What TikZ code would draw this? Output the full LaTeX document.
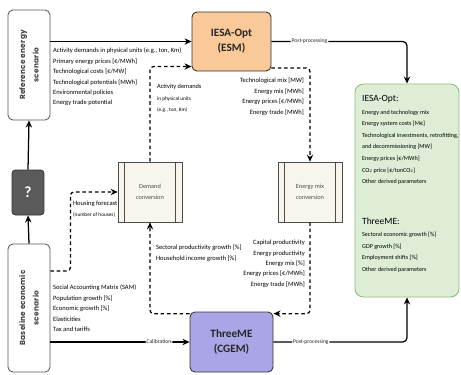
\documentclass[tikz,border=0pt]{standalone}
\usepackage{fontspec}
\setmainfont{Carlito}
\newfontfamily\scenfont[LetterSpace=3]{Poppins}
\usetikzlibrary{arrows.meta,calc}
\tikzset{>={Stealth[length=10pt,width=9pt]}}
\definecolor{esmfill}{HTML}{F9C999}
\definecolor{cgefill}{HTML}{A9A5E6}
\definecolor{outfill}{HTML}{DDEDD6}
\definecolor{outdraw}{HTML}{93C07A}
\definecolor{convfill}{HTML}{F8F6EC}
\definecolor{qfill}{HTML}{5B5B5B}
\tikzset{
  scenbox/.style={draw=black!65,line width=1.2pt,rounded corners=7pt,fill=white,minimum width=2.1cm},
  scentext/.style={rotate=90,align=center,text=black!75,font=\scenfont\bfseries\fontsize{10.5}{19}\selectfont},
  modelbox/.style={draw=black!80,line width=1.3pt,rounded corners=7pt,align=center,font=\bfseries\fontsize{16}{21}\selectfont,text=black!85},
  convbox/.style={draw=black!70,line width=0.9pt,fill=convfill,minimum width=3.2cm,minimum height=3cm,align=center,font=\fontsize{9}{15}\selectfont,text=black!70},
  infotext/.style={inner sep=0pt,align=left,text=black,font=\fontsize{9.3}{14.8}\selectfont},
  listtext/.style={inner sep=0pt,align=left,text=black,font=\fontsize{8.7}{16.4}\selectfont},
  flow/.style={line width=1.8pt,rounded corners=6pt},
  dflow/.style={line width=1.8pt,dash pattern=on 5pt off 4pt,rounded corners=5pt},
  onlabel/.style={fill=white,inner sep=1.5pt,font=\fontsize{8}{9}\selectfont,text=black!85},
  outhead/.style={inner sep=0pt,anchor=west,font=\fontsize{13.5}{15}\selectfont,text=black}
}
\newcommand{\smalltxt}{\fontsize{7.5}{8}\selectfont}
\begin{document}
\begin{tikzpicture}[x=0.05cm,y=-0.05cm]
\useasboundingbox (0,0) rectangle (461,374);
\node (ref) [scenbox,minimum height=5.5cm] at (29,65) {};
\node (reftext) [scentext] at (ref) {Reference energy\\scenario};
\node (base) [scenbox,minimum height=6.4cm] at (29,308) {};
\node (basetext) [scentext] at (base) {Baseline economic\\scenario};
\node (q) [draw=black!80,line width=1.2pt,rounded corners=5pt,fill=qfill,minimum width=1.6cm,minimum height=2.25cm,text=white,font=\bfseries\fontsize{22}{24}\selectfont] at (28,192.5) {?};
\node (esm) [modelbox,fill=esmfill,minimum width=3.95cm,minimum height=2.95cm] at (231.5,41.5) {IESA-Opt\\(ESM)};
\node (cge) [modelbox,fill=cgefill,minimum width=4.15cm,minimum height=3cm] at (231.5,342) {ThreeME\\(CGEM)};
\node (demand) [convbox] at (150,192) {Demand\\conversion};
\node (mix) [convbox] at (310,192) {Energy mix\\conversion};
\draw[black!70,line width=0.9pt] ([xshift=10pt]demand.north west) -- ([xshift=10pt]demand.south west);
\draw[black!70,line width=0.9pt] ([xshift=-10pt]demand.north east) -- ([xshift=-10pt]demand.south east);
\draw[black!70,line width=0.9pt] ([xshift=10pt]mix.north west) -- ([xshift=10pt]mix.south west);
\draw[black!70,line width=0.9pt] ([xshift=-10pt]mix.north east) -- ([xshift=-10pt]mix.south east);
\node (out) [draw=outdraw,line width=1.3pt,rounded corners=12pt,fill=outfill,minimum width=5.2cm,minimum height=10.65cm] at (407,190.5) {};

\node (refin) [infotext,anchor=north west] at (53,48) {Activity demands in physical units (e.g., ton, Km)\\Primary energy prices [€/MWh]\\Technological costs [€/MW]\\Technological potentials [MWh]\\Environmental policies\\Energy trade potential};
\node (actin) [infotext,anchor=north west,font=\fontsize{9}{16.5}\selectfont] at (157,84) {Activity demands\\{\smalltxt in physical units}\\{\smalltxt (e.g., ton, Km)}};
\node (mixin) [infotext,align=right,anchor=north east] at (304,78) {Technological mix [MW]\\Energy mix [MWh]\\Energy prices [€/MWh]\\Energy trade [MWh]};
\node (housin) [infotext,anchor=north west] at (73,201) {Housing forecast\\{\smalltxt (number of houses)}};
\node (sectin) [infotext,anchor=north west] at (156,245) {Sectoral productivity growth [\%]\\Household income growth [\%]};
\node (capin) [infotext,align=right,anchor=north east] at (305,240) {Capital productivity\\Energy productivity\\Energy mix [\%]\\Energy prices [€/MWh]\\Energy trade [MWh]};
\node (basein) [infotext,anchor=north west] at (53,285) {Social Accounting Matrix (SAM)\\Population growth [\%]\\Economic growth [\%]\\Elasticities\\Tax and tariffs};

\node (outhead1) [outhead] at (362,99) {IESA-Opt:};
\node (outlist1) [listtext,anchor=north west] at (362,110) {Energy and technology mix\\Energy system costs [M€]\\Technological investments, retrofitting,\\and decommissioning [MW]\\Energy prices [€/MWh]\\CO$_2$ price [€/tonCO$_2$]\\Other derived parameters};
\node (outhead2) [outhead] at (362,221) {ThreeME:};
\node (outlist2) [listtext,anchor=north west] at (362,232) {Sectoral economic growth [\%]\\GDP growth [\%]\\Employment shifts [\%]\\Other derived parameters};

\draw[flow,->] (esm.west -| ref.east) -- (esm.west);
\draw[flow,->] (base.north) -- (q.south);
\draw[flow,->] (q.north) -- (ref.south);
\draw[flow,->] (cge.west -| base.east) -- node[onlabel,pos=0.78] {Calibration} (cge.west);
\draw[flow,->] (esm.east) -| node[onlabel,pos=0.14] {Post-processing} (out.north);
\draw[flow,->] (cge.east) -| node[onlabel,pos=0.14] {Post-processing} (out.south);

\draw[dflow,->] (demand.north) |- ([yshift=7pt]esm.south west);
\draw[dflow,->] ([yshift=5pt]esm.south east) -| (mix.north);
\draw[dflow,->] (mix.south) |- ([yshift=-3pt]cge.north east);
\draw[dflow,->] ([yshift=-3pt]cge.north west) -| (demand.south);
\draw[dflow,->] (base.60) -- ++(20,0) |- (demand.west);
\end{tikzpicture}
\end{document}
